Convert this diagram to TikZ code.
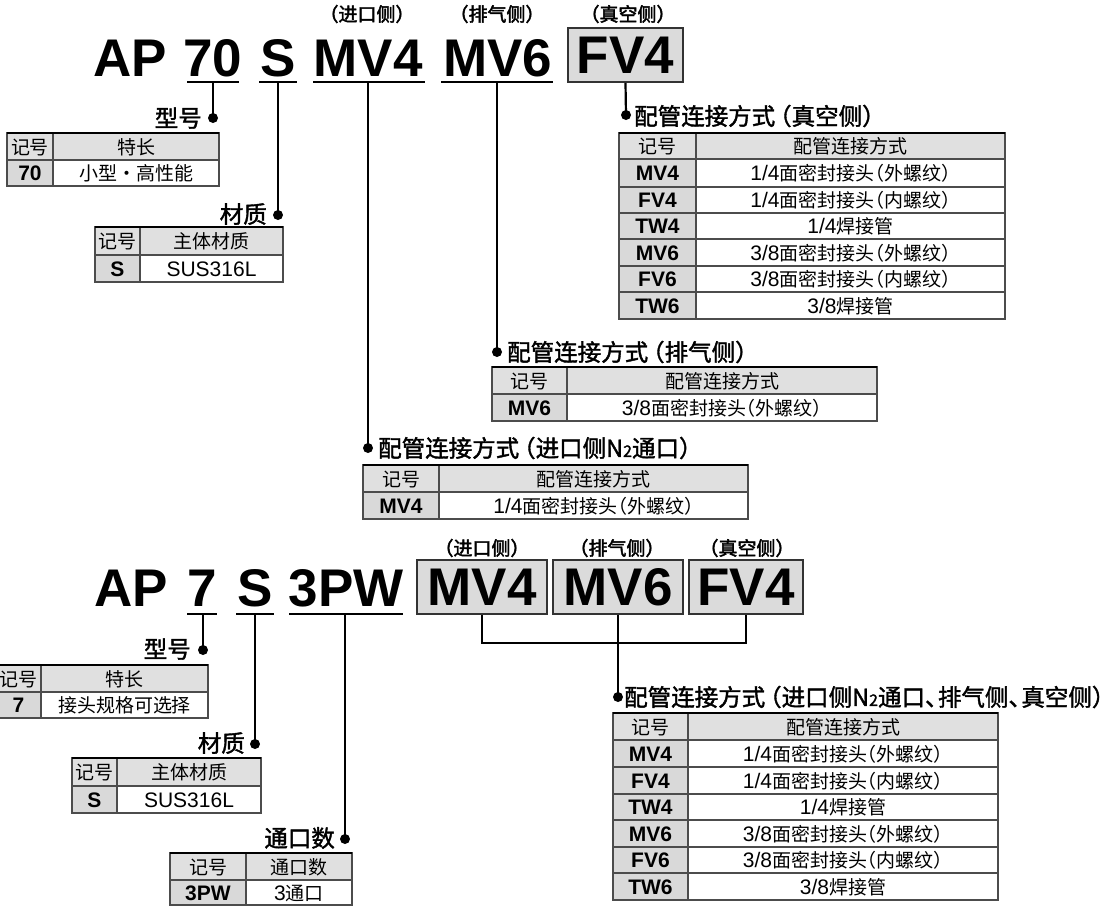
\documentclass[tikz,border=0pt]{standalone}
\usepackage{fontspec}
\setmainfont{Liberation Sans}
\newfontfamily\cjk{Noto Sans CJK SC}
\newfontfamily\cjkh[RawFeature=+halt]{Noto Sans CJK SC}
\newfontfamily\cjkm[FakeBold=1.6,RawFeature=+halt]{Noto Sans CJK SC}
\newfontfamily\cjkb[FakeBold=2.2,RawFeature=+halt]{Noto Sans CJK SC}
\definecolor{hdrgray}{gray}{0.88}
\definecolor{codegray}{gray}{0.85}
\definecolor{boxgray}{gray}{0.86}
\newcommand\Lf[1]{{\fontsize{21}{24}\selectfont #1}}
\newcommand\Cf[1]{{\cjk\fontsize{19}{22}\selectfont #1}}
\newcommand\Cp[1]{{\cjkh\fontsize{19}{22}\selectfont #1}}
\newcommand\LPar{\kern0.2em（}
\newcommand\RPar{）\kern0.2em}
\newcommand\Dun{、\kern0.05em}
\newcommand\DrawTbl[6]{%
  \fill[hdrgray] (#1,#4) rectangle (#3,#5);
  \fill[codegray] (#1,#5) rectangle (#2,#6);
  \draw[grid] (#1,#4) rectangle (#3,#6);
  \draw[grid] (#2,#4) -- (#2,#6);
  \draw[grid] (#1,#5) -- (#3,#5);
  \draw[topline] (#1,#4) -- (#3,#4);}
\tikzset{
  word/.style={font=\bfseries\fontsize{53}{60}\selectfont, inner sep=0, anchor=base},
  toplabel/.style={font=\cjkb\fontsize{19}{22}\selectfont, inner sep=0},
  head/.style={font=\cjkm\fontsize{23.5}{27}\selectfont, inner sep=0},
  cell/.style={inner sep=0, anchor=base},
  code/.style={cell, font=\bfseries\fontsize{21}{24}\selectfont},
  dot/.style={circle, fill=black, inner sep=0, minimum size=10pt},
  conn/.style={line width=2.2pt},
  uline/.style={line width=2.2pt},
  selbox/.style={draw=black!80, line width=1.8pt, fill=boxgray, inner sep=0,
    font=\bfseries\fontsize{53}{60}\selectfont, minimum height=54pt},
  grid/.style={draw=black!70, line width=1.1pt},
  topline/.style={line width=2.6pt},
}
\begin{document}
\begin{tikzpicture}[x=1pt,y=-1pt]
\useasboundingbox (0,0) rectangle (1120,906);
\clip (0,0) rectangle (1120,906);

% ================= Row 1 =================
\node[word] (ap1) at (130,76) {AP};
\node[word] (n70) at (213,76) {70};
\node[word] (s1) at (278.5,76) {S};
\node[word] (mv4a) at (368,76) {MV4};
\node[word] (mv6a) at (497.5,76) {MV6};
\node[selbox, minimum width=115pt] (fv4a) at (625.5,55) {FV4};

\node[toplabel] (la1) at (367,14) {（进口侧）};
\node[toplabel] (la2) at (497,14) {（排气侧）};
\node[toplabel] (la3) at (628,14) {（真空侧）};

\draw[uline] (187,82) -- (239,82);
\draw[uline] (259,82) -- (297,82);
\draw[uline] (313,82) -- (425,82);
\draw[uline] (441,82) -- (553,82);

\coordinate (u70) at (213,82);
\coordinate (us1) at (278,82);
\coordinate (umv4) at (368,82);
\coordinate (umv6) at (497,82);

\node[dot] (d70) at (213,118) {};
\node[dot] (ds1) at (278,215) {};
\node[dot] (dmv4) at (368,448) {};
\node[dot] (dmv6) at (497,352) {};
\node[dot] (dfv4) at (626,115) {};

\draw[conn] (u70) -- (d70.center);
\draw[conn] (us1) -- (ds1.center);
\draw[conn] (umv4) -- (dmv4.center);
\draw[conn] (umv6) -- (dmv6.center);
\draw[conn] (fv4a.south) -- (dfv4.center);

\node[head, anchor=east] (h70) at (202,118) {型号};
\node[head, anchor=east] (hs1) at (267,214) {材质};
\node[head, anchor=west] (hvac) at (634,116) {配管连接方式\LPar 真空侧\RPar};
\node[head, anchor=west] (hexh) at (507,352) {配管连接方式\LPar 排气侧\RPar};
\node[head, anchor=west] (hin) at (378,448) {配管连接方式\LPar 进口侧N{\fontsize{16}{16}\selectfont 2}通口\RPar};

% table 1
\DrawTbl{7}{53}{219}{133}{160}{186}
\node[cell] (t1a) at (30,154) {\Cf{记号}};
\node[cell] (t1b) at (136,154) {\Cf{特长}};
\node[code] (t1c) at (30,180.5) {70};
\node[cell] (t1d) at (136,180.5) {\Cf{小型・高性能}};

% table 2
\DrawTbl{95}{140}{283}{227}{255}{282}
\node[cell] (t2a) at (117.5,248.5) {\Cf{记号}};
\node[cell] (t2b) at (211.5,248.5) {\Cf{主体材质}};
\node[code] (t2c) at (117.5,276) {S};
\node[cell] (t2d) at (211.5,276) {\Lf{SUS316L}};

% table 3 vacuum
\DrawTbl{619}{696}{1005}{133}{159}{319}
\foreach \yy in {187,213,239,266,292} \draw[grid] (619,\yy) -- (1005,\yy);
\node[cell] (t3a) at (657.5,153.5) {\Cf{记号}};
\node[cell] (t3b) at (850.5,153.5) {\Cf{配管连接方式}};
\node[code] (t3c1) at (657.5,180.5) {MV4};
\node[cell] (t3d1) at (850.5,180.5) {\Lf{1/4}\Cp{面密封接头（外螺纹）}};
\node[code] (t3c2) at (657.5,207.5) {FV4};
\node[cell] (t3d2) at (850.5,207.5) {\Lf{1/4}\Cp{面密封接头（内螺纹）}};
\node[code] (t3c3) at (657.5,233.5) {TW4};
\node[cell] (t3d3) at (850.5,233.5) {\Lf{1/4}\Cf{焊接管}};
\node[code] (t3c4) at (657.5,260) {MV6};
\node[cell] (t3d4) at (850.5,260) {\Lf{3/8}\Cp{面密封接头（外螺纹）}};
\node[code] (t3c5) at (657.5,286.5) {FV6};
\node[cell] (t3d5) at (850.5,286.5) {\Lf{3/8}\Cp{面密封接头（内螺纹）}};
\node[code] (t3c6) at (657.5,313) {TW6};
\node[cell] (t3d6) at (850.5,313) {\Lf{3/8}\Cf{焊接管}};

% table 4 exhaust
\DrawTbl{492}{567}{877}{367}{394}{421}
\node[cell] (t4a) at (529.5,388) {\Cf{记号}};
\node[cell] (t4b) at (722,388) {\Cf{配管连接方式}};
\node[code] (t4c) at (529.5,415) {MV6};
\node[cell] (t4d) at (722,415) {\Lf{3/8}\Cp{面密封接头（外螺纹）}};

% table 5 inlet
\DrawTbl{363}{439}{748}{465}{492}{519}
\node[cell] (t5a) at (401,486) {\Cf{记号}};
\node[cell] (t5b) at (593.5,486) {\Cf{配管连接方式}};
\node[code] (t5c) at (401,513) {MV4};
\node[cell] (t5d) at (593.5,513) {\Lf{1/4}\Cp{面密封接头（外螺纹）}};

% ================= Row 2 =================
\node[word] (ap2) at (131,606) {AP};
\node[word] (n7) at (202.5,606) {7};
\node[word] (s2) at (255.5,606) {S};
\node[word] (pw) at (346,606) {3PW};
\node[selbox, minimum width=130pt] (mv4b) at (482,587) {MV4};
\node[selbox, minimum width=130pt] (mv6b) at (618,587) {MV6};
\node[selbox, minimum width=114pt] (fv4b) at (746,587) {FV4};

\node[toplabel] (lb1) at (482,548) {（进口侧）};
\node[toplabel] (lb2) at (617,548) {（排气侧）};
\node[toplabel] (lb3) at (747,548) {（真空侧）};

\draw[uline] (187,614) -- (217,614);
\draw[uline] (236,614) -- (274,614);
\draw[uline] (289,614) -- (403,614);

\coordinate (u7) at (203,614);
\coordinate (us2) at (255,614);
\coordinate (upw) at (345,614);
\coordinate (brk) at (618,643);

\node[dot] (d7) at (203,650) {};
\node[dot] (ds2) at (255,744) {};
\node[dot] (dpw) at (345,839) {};
\node[dot] (dall) at (618,697) {};

\draw[conn] (u7) -- (d7.center);
\draw[conn] (us2) -- (ds2.center);
\draw[conn] (upw) -- (dpw.center);
\draw[conn] (mv4b.south) |- (brk) -| (fv4b.south);
\draw[conn] (mv6b.south) -- (dall.center);

\node[head, anchor=east] (h7) at (191,649) {型号};
\node[head, anchor=east] (hs2) at (245,743) {材质};
\node[head, anchor=east] (hpw) at (335,838) {通口数};
\node[head, anchor=west] (hall) at (624,697) {配管连接方式\LPar 进口侧N{\fontsize{16}{16}\selectfont 2}通口\Dun 排气侧\Dun 真空侧）};

% table 6
\DrawTbl{-4}{41}{208}{665}{692}{718}
\node[cell] (t6a) at (18.5,686) {\Cf{记号}};
\node[cell] (t6b) at (124.5,686) {\Cf{特长}};
\node[code] (t6c) at (18.5,712.5) {7};
\node[cell] (t6d) at (124.5,712.5) {\Cf{接头规格可选择}};

% table 7
\DrawTbl{72}{117}{261}{758}{786}{813}
\node[cell] (t7a) at (94.5,779.5) {\Cf{记号}};
\node[cell] (t7b) at (189,779.5) {\Cf{主体材质}};
\node[code] (t7c) at (94.5,807) {S};
\node[cell] (t7d) at (189,807) {\Lf{SUS316L}};

% table 8
\DrawTbl{170}{246}{352}{853}{880}{905}
\node[cell] (t8a) at (208,874) {\Cf{记号}};
\node[cell] (t8b) at (299,874) {\Cf{通口数}};
\node[code] (t8c) at (208,900) {3PW};
\node[cell] (t8d) at (299,900) {\Lf{3}\Cf{通口}};

% table 9 combined
\DrawTbl{613}{688}{998}{713}{740}{900}
\foreach \yy in {767,794,820,847,873} \draw[grid] (613,\yy) -- (998,\yy);
\node[cell] (t9a) at (650.5,734) {\Cf{记号}};
\node[cell] (t9b) at (843,734) {\Cf{配管连接方式}};
\node[code] (t9c1) at (650.5,761) {MV4};
\node[cell] (t9d1) at (843,761) {\Lf{1/4}\Cp{面密封接头（外螺纹）}};
\node[code] (t9c2) at (650.5,788) {FV4};
\node[cell] (t9d2) at (843,788) {\Lf{1/4}\Cp{面密封接头（内螺纹）}};
\node[code] (t9c3) at (650.5,814.5) {TW4};
\node[cell] (t9d3) at (843,814.5) {\Lf{1/4}\Cf{焊接管}};
\node[code] (t9c4) at (650.5,841) {MV6};
\node[cell] (t9d4) at (843,841) {\Lf{3/8}\Cp{面密封接头（外螺纹）}};
\node[code] (t9c5) at (650.5,867.5) {FV6};
\node[cell] (t9d5) at (843,867.5) {\Lf{3/8}\Cp{面密封接头（内螺纹）}};
\node[code] (t9c6) at (650.5,894) {TW6};
\node[cell] (t9d6) at (843,894) {\Lf{3/8}\Cf{焊接管}};
\end{tikzpicture}
\end{document}
